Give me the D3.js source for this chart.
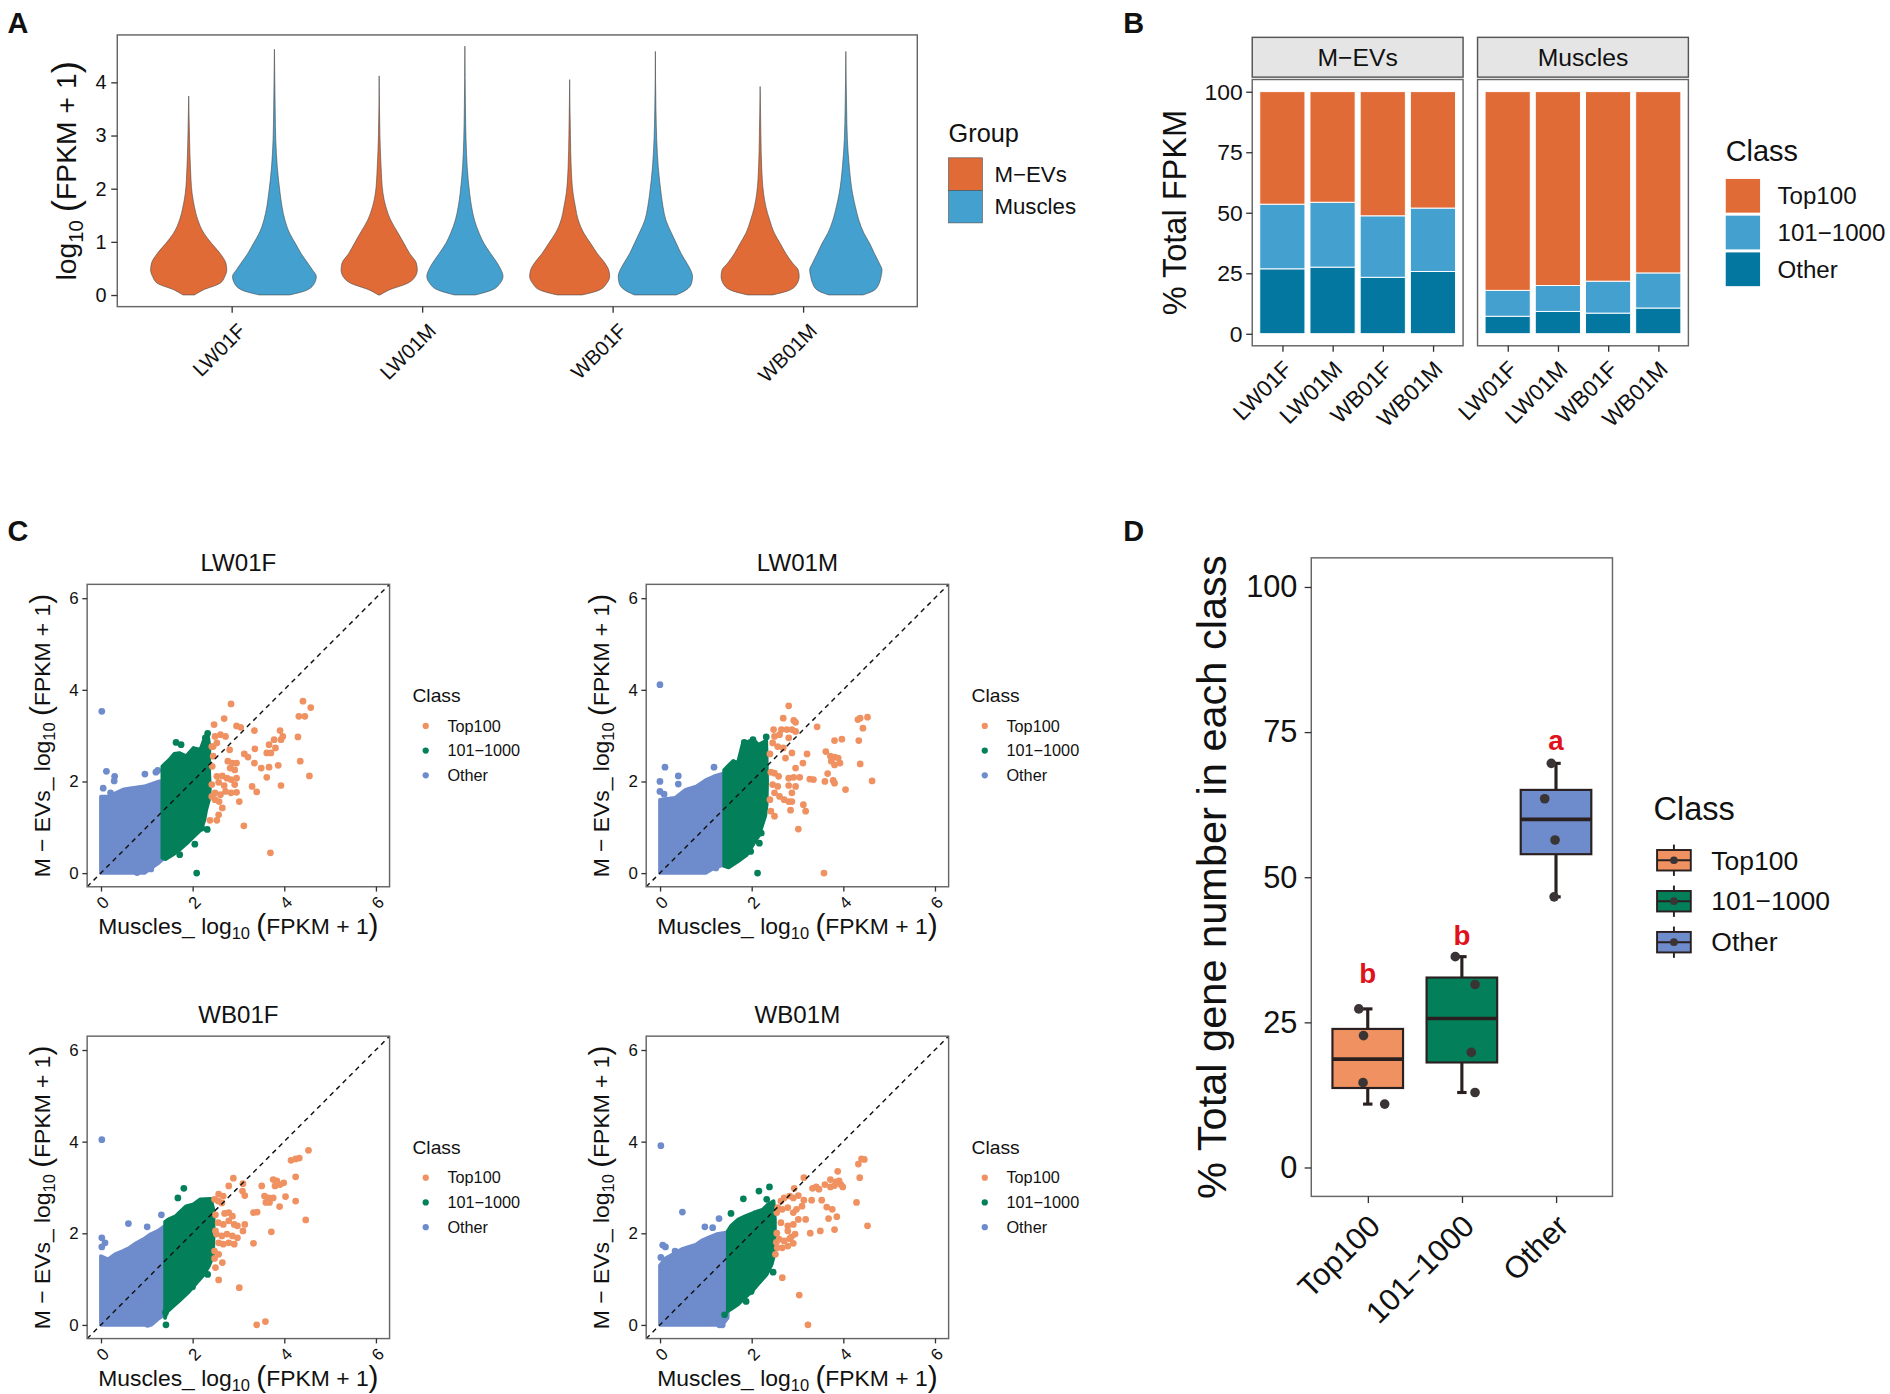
<!DOCTYPE html>
<html>
<head>
<meta charset="utf-8">
<script src="https://cdn.jsdelivr.net/npm/d3@7"></script>
<style>
  body { margin: 0; background: #fff; }
  text { fill: #111; }
</style>
</head>
<body>
<div id="fig"></div>
<script>
// ---------- data ----------
const samples = ["LW01F", "LW01M", "WB01F", "WB01M"];
const groups = ["M\u2212EVs", "Muscles"];
const classes = ["Top100", "101\u22121000", "Other"];

// A: violin outlines, [log10(FPKM+1), half width in category units]
const violinMEVs = [
  [[0,0.03],[0.09,0.074],[0.22,0.165],[0.35,0.19],[0.47,0.2],[0.6,0.195],[0.78,0.165],[0.97,0.12],[1.16,0.08],[1.41,0.048],[1.66,0.03],[1.91,0.018],[2.41,0.009],[2.92,0.0045],[3.74,0]],
  [[0,0.005],[0.09,0.05],[0.22,0.15],[0.35,0.19],[0.47,0.2],[0.6,0.195],[0.78,0.16],[0.97,0.13],[1.16,0.1],[1.41,0.06],[1.66,0.035],[1.91,0.02],[2.41,0.01],[3.0,0.004],[4.12,0]],
  [[0,0.065],[0.09,0.155],[0.22,0.195],[0.35,0.21],[0.47,0.205],[0.6,0.185],[0.78,0.145],[0.97,0.11],[1.16,0.075],[1.41,0.045],[1.66,0.03],[1.91,0.018],[2.41,0.008],[3.0,0.004],[4.05,0]],
  [[0,0.065],[0.09,0.155],[0.22,0.195],[0.35,0.205],[0.47,0.2],[0.6,0.17],[0.78,0.135],[0.97,0.105],[1.16,0.075],[1.41,0.05],[1.66,0.03],[1.91,0.018],[2.41,0.008],[3.0,0.004],[3.92,0]]
];
const violinMuscles = [
  [[0,0.08],[0.09,0.17],[0.22,0.21],[0.35,0.22],[0.47,0.2],[0.6,0.175],[0.78,0.14],[0.97,0.11],[1.16,0.08],[1.41,0.055],[1.66,0.04],[1.91,0.03],[2.41,0.015],[2.92,0.007],[3.48,0.004],[4.62,0]],
  [[0,0.055],[0.09,0.14],[0.22,0.185],[0.35,0.2],[0.47,0.19],[0.6,0.17],[0.78,0.135],[0.97,0.1],[1.16,0.075],[1.41,0.05],[1.66,0.035],[1.91,0.025],[2.41,0.012],[2.92,0.006],[3.5,0.003],[4.68,0]],
  [[0,0.11],[0.09,0.16],[0.22,0.19],[0.35,0.195],[0.47,0.185],[0.6,0.165],[0.78,0.135],[0.97,0.11],[1.16,0.085],[1.41,0.055],[1.66,0.04],[1.91,0.03],[2.41,0.015],[2.92,0.007],[3.5,0.003],[4.58,0]],
  [[0,0.09],[0.09,0.15],[0.22,0.175],[0.35,0.185],[0.47,0.19],[0.6,0.175],[0.78,0.15],[0.97,0.125],[1.16,0.095],[1.41,0.068],[1.66,0.05],[1.91,0.035],[2.41,0.018],[2.92,0.008],[3.5,0.004],[4.58,0]]
];
const aTicks = [0, 1, 2, 3, 4];

// B: % of total FPKM per class
const bTopMEVs = [46.5, 45.7, 51.3, 48.1];
const bMidMEVs = [26.7, 26.8, 25.4, 26.2];
const bOtherMEVs = [26.8, 27.5, 23.3, 25.7];
const bTopMuscles = [82.1, 80.1, 78.3, 74.9];
const bMidMuscles = [10.7, 10.7, 13.2, 14.5];
const bOtherMuscles = [7.2, 9.2, 8.5, 10.6];
const bTicks = [0, 25, 50, 75, 100];

// C: Muscles vs M-EVs, [x, y] in log10(FPKM+1)
// dense clouds are given as outlines, sparse genes as single points
const cOtherArea = [
  [[0,0],[0,1.67],[0.17,1.67],[0.33,1.75],[0.48,1.82],[0.64,1.85],[0.95,1.89],[1.26,2.0],[1.34,2.0],[1.34,0.29],[1.26,0.22],[1.1,0.11],[0.95,0]],
  [[0,0],[0,1.6],[0.15,1.62],[0.33,1.64],[0.56,1.82],[0.79,1.89],[1.02,2.04],[1.18,2.11],[1.4,2.18],[1.4,0.18],[1.18,0.11],[1.0,0]],
  [[0,0],[0,1.5],[0.16,1.43],[0.31,1.54],[0.47,1.61],[0.62,1.68],[0.78,1.79],[0.93,1.87],[1.09,1.98],[1.24,2.05],[1.4,2.16],[1.4,0.23],[1.24,0.12],[1.1,0]],
  [[0,0],[0,1.3],[0.12,1.45],[0.3,1.55],[0.47,1.65],[0.62,1.7],[0.78,1.75],[0.93,1.85],[1.09,1.92],[1.24,1.98],[1.48,2.02],[1.48,0.15],[1.4,0.05],[1.3,0]]
];
const cMidArea = [
  [[1.34,0.33],[1.34,2.33],[1.49,2.47],[1.6,2.6],[1.71,2.62],[1.86,2.55],[2.02,2.73],[2.17,2.69],[2.25,2.91],[2.33,3.05],[2.37,2.75],[2.36,2.3],[2.38,1.85],[2.36,1.6],[2.3,1.38],[2.26,1.16],[2.19,0.95],[2.03,0.8],[1.88,0.65],[1.72,0.51],[1.57,0.4],[1.41,0.3]],
  [[1.4,0.15],[1.4,2.25],[1.5,2.35],[1.6,2.45],[1.7,2.4],[1.8,2.8],[1.95,2.88],[2.05,2.9],[2.15,2.8],[2.25,2.85],[2.32,2.9],[2.33,2.5],[2.34,2.0],[2.33,1.5],[2.3,1.25],[2.22,1.0],[2.15,0.8],[2.05,0.65],[1.9,0.4],[1.7,0.25],[1.5,0.12]],
  [[1.4,0.15],[1.4,2.25],[1.47,2.3],[1.63,2.37],[1.71,2.45],[1.86,2.59],[2.02,2.63],[2.17,2.74],[2.4,2.75],[2.46,2.5],[2.46,2.0],[2.45,1.5],[2.36,1.29],[2.25,1.1],[2.09,0.92],[1.9,0.7],[1.71,0.52],[1.55,0.38],[1.43,0.27]],
  [[1.48,0.3],[1.48,2.05],[1.55,2.16],[1.71,2.3],[1.86,2.37],[2.05,2.45],[2.25,2.52],[2.36,2.63],[2.48,2.7],[2.51,2.3],[2.51,1.9],[2.5,1.55],[2.44,1.32],[2.33,1.1],[2.17,0.92],[2.02,0.74],[1.86,0.6],[1.71,0.45],[1.55,0.34]]
];
const cTopPts = [
  [[2.84,3.69],[4.41,3.75],[4.58,3.61],[4.32,3.42],[4.45,3.42],[2.47,3.24],[2.69,3.37],[2.96,3.21],[3.05,3.18],[3.35,3.11],[3.91,3.11],[4.3,2.97],[2.49,2.98],[2.61,3.02],[2.72,2.98],[2.45,2.76],[2.53,2.84],[2.81,2.69],[3.36,2.71],[3.21,2.53],[3.13,2.6],[3.67,2.8],[3.78,2.91],[3.93,2.91],[3.97,2.98],[3.81,2.73],[3.62,2.62],[3.71,2.62],[4.35,2.44],[2.77,2.44],[2.87,2.4],[2.96,2.4],[2.82,2.29],[2.92,2.25],[3.5,2.29],[3.67,2.31],[3.87,2.35],[3.35,2.4],[2.53,2.11],[2.65,2.12],[2.57,1.98],[2.75,2.07],[2.84,2.04],[2.96,2.07],[4.55,2.12],[3.62,2.09],[2.69,1.91],[2.92,1.93],[3.3,1.89],[3.93,1.91],[3.4,1.77],[2.49,1.75],[2.61,1.71],[2.72,1.78],[2.84,1.75],[2.96,1.76],[2.49,1.6],[2.58,1.56],[3.02,1.56],[2.65,1.42],[2.57,1.27],[2.38,1.15],[2.53,1.15],[3.12,1.03],[3.7,0.44],[2.42,2.76],[2.45,2.55],[2.43,2.33],[2.42,1.93],[2.42,1.67]],
  [[2.81,3.65],[2.69,3.38],[2.92,3.33],[2.96,3.29],[3.43,3.19],[4.32,3.35],[4.37,3.38],[4.53,3.4],[4.43,3.16],[2.48,3.13],[2.65,3.13],[2.77,3.13],[2.88,3.13],[2.96,3.09],[2.5,2.98],[2.61,3.02],[2.81,2.95],[3.81,2.89],[3.97,2.92],[4.34,2.89],[2.46,2.84],[2.57,2.76],[2.69,2.73],[2.74,2.51],[2.88,2.62],[3.21,2.6],[3.62,2.65],[3.72,2.55],[3.81,2.53],[3.74,2.44],[3.81,2.36],[3.89,2.51],[3.93,2.4],[4.37,2.38],[2.96,2.29],[3.12,2.4],[3.66,2.17],[2.81,2.07],[2.92,2.09],[3.05,2.09],[3.27,2.05],[3.35,2.04],[2.5,2.18],[2.59,2.11],[4.63,2.01],[3.6,2.0],[3.81,1.96],[3.78,2.02],[4.05,1.82],[2.46,1.93],[2.57,1.89],[2.81,1.91],[2.96,1.89],[2.5,1.75],[2.61,1.67],[2.71,1.6],[2.81,1.56],[2.88,1.75],[2.88,1.56],[3.13,1.49],[3.18,1.35],[2.42,1.35],[2.5,1.24],[2.85,1.37],[3.02,0.96],[3.58,0.0],[2.4,2.6],[2.42,2.2],[2.4,1.6]],
  [[4.53,3.81],[4.15,3.59],[4.25,3.62],[4.33,3.64],[2.89,3.2],[4.25,3.23],[3.76,3.17],[3.84,3.14],[3.91,3.06],[3.99,3.1],[3.8,3.03],[3.84,3.1],[3.1,3.08],[3.09,2.92],[3.14,2.82],[2.79,3.03],[3.51,3.03],[2.57,2.85],[2.67,2.81],[2.48,2.74],[2.56,2.7],[2.64,2.66],[3.57,2.81],[3.66,2.77],[3.76,2.77],[3.68,2.67],[3.6,2.67],[4.03,2.8],[4.25,2.7],[3.33,2.45],[3.41,2.46],[3.9,2.58],[2.7,2.43],[2.79,2.45],[2.87,2.37],[2.79,2.27],[2.91,2.19],[2.98,2.16],[2.56,2.23],[2.67,2.19],[3.14,2.19],[3.1,2.05],[4.47,2.29],[2.52,1.98],[2.64,1.94],[2.75,1.98],[2.87,1.94],[2.98,1.9],[3.72,2.03],[2.57,1.79],[2.67,1.76],[2.79,1.79],[2.91,1.76],[3.33,1.78],[2.48,1.61],[2.57,1.54],[2.65,1.36],[2.5,1.25],[2.57,0.98],[3.02,0.81],[3.4,0.0],[3.59,0.07],[2.5,2.4],[2.5,2.05],[2.48,1.45]],
  [[4.46,3.61],[4.4,3.62],[4.33,3.51],[4.36,3.21],[3.14,3.21],[3.88,3.35],[3.33,2.98],[3.41,3.01],[3.47,2.96],[3.6,3.06],[3.72,3.01],[3.81,3.04],[3.91,3.14],[3.95,3.06],[3.99,3.01],[3.72,3.17],[3.84,3.12],[2.93,2.98],[2.83,2.81],[2.91,2.77],[3.02,2.82],[2.71,2.77],[2.64,2.7],[3.14,2.72],[3.1,2.59],[3.31,2.72],[3.53,2.72],[3.64,2.57],[3.76,2.52],[4.29,2.67],[2.57,2.56],[2.67,2.52],[2.79,2.56],[2.91,2.45],[2.98,2.52],[3.86,2.36],[3.68,2.32],[3.02,2.3],[3.18,2.3],[4.53,2.16],[2.64,2.23],[2.79,2.16],[2.91,2.19],[2.79,2.05],[2.95,1.98],[2.87,1.92],[3.28,2.0],[3.5,2.05],[3.81,2.08],[2.6,1.87],[2.71,1.83],[2.83,1.88],[2.56,1.68],[2.67,1.68],[2.79,1.72],[2.91,1.78],[2.52,1.54],[2.67,1.03],[3.04,0.65],[3.23,0.0],[2.55,2.45],[2.55,2.0],[2.54,1.8]]
];
const cMidPts = [
  [[2.09,0.0],[2.05,0.63],[1.72,0.4],[1.41,0.36],[2.32,0.95],[2.2,0.98],[1.64,2.85],[1.75,2.8],[2.33,3.05],[2.28,2.95]],
  [[2.13,0],[1.98,0.47],[2.21,0.87],[2.17,0.65],[2.32,2.97],[1.49,0.18],[1.84,2.85],[2.03,2.91]],
  [[1.81,2.98],[1.68,2.77],[1.42,0],[1.41,0.27],[2.0,0.83],[2.33,1.1]],
  [[2.39,3.01],[2.16,2.92],[1.82,2.75],[2.33,2.74],[1.55,2.43],[1.88,0.51],[1.99,0.73],[2.31,1.18],[2.47,1.15],[1.41,0.22]]
];
const cOtherPts = [
  [[0.02,3.53],[0.12,2.22],[0.3,2.11],[0.29,2.01],[0.21,1.75],[1.24,2.24],[0.96,2.16],[1.09,0.09],[0.79,0.01],[0.05,1.85],[1.2,2.2]],
  [[0,4.11],[0.11,2.31],[0,2.0],[0.4,2.12],[0.4,1.94],[0,1.78],[0.09,1.72],[1.18,2.31],[1.22,0.11]],
  [[0.02,4.04],[0.6,2.21],[1.32,2.4],[1.01,2.14],[0.02,1.9],[0.09,1.79],[0.02,1.7],[1.02,0.01]],
  [[0.02,3.91],[0.49,2.46],[1.29,2.32],[0.98,2.14],[1.15,2.12],[0.06,1.74],[0.12,1.7],[0.33,1.61],[0.02,1.47],[1.3,0],[1.36,0],[1.16,0.05]]
];
const cTicks = [0, 2, 4, 6];

// D: % of gene number per class, one value per sample, with jitter
const dTop = [27.3, 22.7, 14.6, 10.9];
const dMid = [36.3, 31.5, 19.8, 12.9];
const dOther = [69.6, 63.5, 56.4, 46.6];
const dJitTop = [-0.095, -0.045, -0.05, 0.18];
const dJitMid = [-0.07, 0.14, 0.1, 0.14];
const dJitOther = [-0.05, -0.12, -0.01, -0.02];
const dLetters = ["b", "b", "a"];
const dLetterY = [33.5, 40.0, 73.5];
const dTicks = [0, 25, 50, 75, 100];

// ---------- drawing ----------
const FONT = '"Liberation Sans", Arial, Helvetica, sans-serif';
const colA = ["#E06B37", "#44A0CF", "#03779F"];
const colC = ["#EF9160", "#03805A", "#6E8BCB"];

const svg = d3.select("#fig").append("svg")
  .attr("width", 1890).attr("height", 1394)
  .attr("viewBox", "0 0 1568 1157")
  .style("font-family", FONT);
svg.append("rect").attr("width", 1568).attr("height", 1157).attr("fill", "#fff");

function letter(t, x, y) {
  svg.append("text").attr("x", x).attr("y", y)
    .attr("font-size", 24).attr("font-weight", "bold").text(t);
}

function styleAxis(g, size) {
  g.attr("font-family", FONT).attr("font-size", size);
  g.select(".domain").remove();
  g.selectAll(".tick line").attr("stroke", "#333").attr("stroke-width", 1.1);
  g.selectAll(".tick text").attr("fill", "#1a1a1a");
}

function rotateLabels(g, dx, dy, angle) {
  g.selectAll(".tick text")
    .attr("x", 0).attr("y", 0).attr("dy", "0.35em")
    .attr("text-anchor", "end")
    .attr("transform", `translate(${dx},${dy}) rotate(${angle})`);
}

function frame(g, x0, y0, x1, y1) {
  g.append("rect").attr("x", x0).attr("y", y0)
    .attr("width", x1 - x0).attr("height", y1 - y0)
    .attr("fill", "none").attr("stroke", "#666").attr("stroke-width", 1.2);
}

// "prefix log10 (FPKM + 1)" like R plotmath
function logLabel(t, prefix, size) {
  t.append("tspan").text(prefix + "log");
  t.append("tspan").attr("font-size", size * 0.72).attr("dy", size * 0.22).text("10");
  t.append("tspan").attr("dy", -size * 0.22).text(" ");
  t.append("tspan").attr("font-size", size * 1.3).attr("dy", size * 0.06).text("(");
  t.append("tspan").attr("dy", -size * 0.06).text("FPKM + 1");
  t.append("tspan").attr("font-size", size * 1.3).attr("dy", size * 0.06).text(")");
}

// ===== A =====
letter("A", 6, 27);
const aL = 97, aR = 761, aT = 29, aB = 254.5;
const aX = d3.scaleLinear().domain([0.4, 4.6]).range([aL, aR]);
const aY = d3.scaleLinear().domain([-0.22, 4.89]).range([aB, aT]);
const gA = svg.append("g");
const dodge = [-0.225, 0.225];

[violinMEVs, violinMuscles].forEach((set, gi) => {
  set.forEach((prof, si) => {
    const cx = si + 1 + dodge[gi];
    const area = d3.area().curve(d3.curveMonotoneY)
      .y(d => aY(d[0]))
      .x0(d => aX(cx - d[1]))
      .x1(d => aX(cx + d[1]));
    gA.append("path").datum(prof).attr("d", area)
      .attr("fill", colA[gi]).attr("stroke", "#4a4a4a").attr("stroke-width", 0.5);
  });
});
frame(gA, aL, aT, aR, aB);

const aYAxis = gA.append("g").attr("transform", `translate(${aL},0)`)
  .call(d3.axisLeft(aY).tickValues(aTicks).tickFormat(d3.format("d")).tickSize(5).tickPadding(4));
styleAxis(aYAxis, 16.5);
const aXAxis = gA.append("g").attr("transform", `translate(0,${aB})`)
  .call(d3.axisBottom(aX).tickValues([1, 2, 3, 4]).tickFormat((d, i) => samples[i]).tickSize(5));
styleAxis(aXAxis, 17);
rotateLabels(aXAxis, 8, 17, -45);

const aTitle = gA.append("text").attr("font-size", 23.5).attr("text-anchor", "middle")
  .attr("transform", `translate(63,${(aT + aB) / 2}) rotate(-90)`);
logLabel(aTitle, "", 23.5);

gA.append("text").attr("x", 787).attr("y", 118).attr("font-size", 21).text("Group");
groups.forEach((g, i) => {
  gA.append("rect").attr("x", 787).attr("y", 131 + i * 27).attr("width", 28).attr("height", 27)
    .attr("fill", colA[i]).attr("stroke", "#4a4a4a").attr("stroke-width", 0.5);
  gA.append("text").attr("x", 825).attr("y", 144.5 + i * 27).attr("dy", "0.35em")
    .attr("font-size", 18.5).text(g);
});

// ===== B =====
letter("B", 932, 27);
const bT = 66, bB = 287;
const bY = d3.scaleLinear().domain([-5, 105]).range([bB, bT]);
const facetX = [[1039, 1214], [1226, 1401]];
const bSets = [[bOtherMEVs, bMidMEVs, bTopMEVs], [bOtherMuscles, bMidMuscles, bTopMuscles]];
const stackKeys = ["Other", "Mid", "Top"];
const stackCol = { Other: colA[2], Mid: colA[1], Top: colA[0] };
const gB = svg.append("g");

bSets.forEach((set, fi) => {
  const [x0, x1] = facetX[fi];
  const bX = d3.scaleLinear().domain([0.4, 4.6]).range([x0, x1]);
  const rows = samples.map((s, i) => ({ i: i, Other: set[0][i], Mid: set[1][i], Top: set[2][i] }));
  const stacked = d3.stack().keys(stackKeys)(rows);
  const bw = bX(1.45) - bX(0.55);
  stacked.forEach(layer => {
    gB.selectAll(null).data(layer).enter().append("rect")
      .attr("x", d => bX(d.data.i + 1) - bw / 2)
      .attr("width", bw)
      .attr("y", d => bY(d[1]))
      .attr("height", d => bY(d[0]) - bY(d[1]))
      .attr("fill", stackCol[layer.key])
      .attr("stroke", "#fff").attr("stroke-width", 0.8);
  });
  frame(gB, x0, bT, x1, bB);
  // strip
  gB.append("rect").attr("x", x0).attr("y", 31).attr("width", x1 - x0).attr("height", 33)
    .attr("fill", "#E5E5E5").attr("stroke", "#555").attr("stroke-width", 1.2);
  gB.append("text").attr("x", (x0 + x1) / 2).attr("y", 47.5).attr("dy", "0.35em")
    .attr("text-anchor", "middle").attr("font-size", 20.5).text(groups[fi]);

  const xa = gB.append("g").attr("transform", `translate(0,${bB})`)
    .call(d3.axisBottom(bX).tickValues([1, 2, 3, 4]).tickFormat((d, i) => samples[i]).tickSize(5));
  styleAxis(xa, 19);
  rotateLabels(xa, 4, 16, -45);
  if (fi === 0) {
    const ya = gB.append("g").attr("transform", `translate(${x0},0)`)
      .call(d3.axisLeft(bY).tickValues(bTicks).tickSize(5).tickPadding(3));
    styleAxis(ya, 19);
  }
});
gB.append("text").attr("font-size", 27).attr("text-anchor", "middle")
  .attr("transform", `translate(984,${(bT + bB) / 2}) rotate(-90)`).text("% Total FPKM");
gB.append("text").attr("x", 1432).attr("y", 134).attr("font-size", 24).text("Class");
classes.forEach((c, i) => {
  gB.append("rect").attr("x", 1432).attr("y", 148.5 + i * 30.5).attr("width", 28.5).attr("height", 28)
    .attr("fill", colA[i]);
  gB.append("text").attr("x", 1475).attr("y", 162.5 + i * 30.5).attr("dy", "0.35em")
    .attr("font-size", 20).text(c);
});

// ===== C =====
letter("C", 6, 449);
const cBoxes = [[72, 485], [536, 485], [72, 860], [536, 860]];
const cSize = 251;

function scatter(k) {
  const [L, T] = cBoxes[k];
  const R = L + cSize, B = T + cSize;
  const x = d3.scaleLinear().domain([-0.3, 6.3]).range([L, R]);
  const y = d3.scaleLinear().domain([-0.3, 6.3]).range([B, T]);
  const g = svg.append("g");
  const clipId = "clip" + k;
  g.append("clipPath").attr("id", clipId).append("rect")
    .attr("x", L).attr("y", T).attr("width", cSize).attr("height", cSize);
  const body = g.append("g").attr("clip-path", `url(#${clipId})`);
  const outline = d3.line().x(d => x(d[0])).y(d => y(d[1])).curve(d3.curveLinearClosed);

  body.append("path").datum(cOtherArea[k]).attr("d", outline)
    .attr("fill", colC[2]).attr("stroke", colC[2]).attr("stroke-width", 3).attr("stroke-linejoin", "round");
  body.selectAll(null).data(cOtherPts[k]).enter().append("circle")
    .attr("cx", d => x(d[0])).attr("cy", d => y(d[1])).attr("r", 2.8).attr("fill", colC[2]);
  body.append("path").datum(cMidArea[k]).attr("d", outline)
    .attr("fill", colC[1]).attr("stroke", colC[1]).attr("stroke-width", 3).attr("stroke-linejoin", "round");
  body.selectAll(null).data(cMidPts[k]).enter().append("circle")
    .attr("cx", d => x(d[0])).attr("cy", d => y(d[1])).attr("r", 2.8).attr("fill", colC[1]);
  body.selectAll(null).data(cTopPts[k]).enter().append("circle")
    .attr("cx", d => x(d[0])).attr("cy", d => y(d[1])).attr("r", 2.8).attr("fill", colC[0]);
  // y = x
  body.append("line").attr("x1", x(-0.3)).attr("y1", y(-0.3)).attr("x2", x(6.3)).attr("y2", y(6.3))
    .attr("stroke", "#111").attr("stroke-width", 1.2).attr("stroke-dasharray", "4,3.5");
  frame(g, L, T, R, B);

  const ya = g.append("g").attr("transform", `translate(${L},0)`)
    .call(d3.axisLeft(y).tickValues(cTicks).tickFormat(d3.format("d")).tickSize(4).tickPadding(3));
  styleAxis(ya, 14);
  const xa = g.append("g").attr("transform", `translate(0,${B})`)
    .call(d3.axisBottom(x).tickValues(cTicks).tickFormat(d3.format("d")).tickSize(4));
  styleAxis(xa, 14);
  xa.selectAll(".tick text").attr("x", 0).attr("y", 0).attr("dy", "0.35em")
    .attr("text-anchor", "middle").attr("transform", "translate(1,13) rotate(-45)");

  g.append("text").attr("x", (L + R) / 2).attr("y", T - 11).attr("text-anchor", "middle")
    .attr("font-size", 20).text(samples[k]);
  const xt = g.append("text").attr("x", (L + R) / 2).attr("y", B + 39).attr("text-anchor", "middle")
    .attr("font-size", 19);
  logLabel(xt, "Muscles_ ", 19);
  const yt = g.append("text").attr("text-anchor", "middle").attr("font-size", 19)
    .attr("transform", `translate(${L - 31},${(T + B) / 2}) rotate(-90)`);
  logLabel(yt, "M \u2212 EVs_ ", 19);

  g.append("text").attr("x", R + 19).attr("y", T + 92).attr("dy", "0.35em")
    .attr("font-size", 16).text("Class");
  classes.forEach((c, i) => {
    g.append("circle").attr("cx", R + 30).attr("cy", T + 117.5 + i * 20.5).attr("r", 2.6).attr("fill", colC[i]);
    g.append("text").attr("x", R + 48).attr("y", T + 117.5 + i * 20.5).attr("dy", "0.35em")
      .attr("font-size", 13.5).text(c);
  });
}
[0, 1, 2, 3].forEach(scatter);

// ===== D =====
letter("D", 932, 449);
const dL = 1088, dR = 1338, dT = 463, dB = 993;
const dX = d3.scaleLinear().domain([0.4, 3.6]).range([dL, dR]);
const dY = d3.scaleLinear().domain([-5, 105]).range([dB, dT]);
const gD = svg.append("g");
const dVals = [dTop, dMid, dOther];
const dJit = [dJitTop, dJitMid, dJitOther];
const ink = "#2a2020";

dVals.forEach((vals, ci) => {
  const cx = ci + 1;
  const s = vals.slice().sort(d3.ascending);
  const q1 = d3.quantile(s, 0.25), med = d3.quantile(s, 0.5), q3 = d3.quantile(s, 0.75);
  const lo = s[0], hi = s[s.length - 1];
  const half = (dX(1.375) - dX(1)), cap = dX(1.05) - dX(1);
  // error bars
  [[lo, q1], [q3, hi]].forEach(([a, b]) => {
    gD.append("line").attr("x1", dX(cx)).attr("x2", dX(cx)).attr("y1", dY(a)).attr("y2", dY(b))
      .attr("stroke", ink).attr("stroke-width", 2.6);
  });
  [lo, hi].forEach(v => {
    gD.append("line").attr("x1", dX(cx) - cap).attr("x2", dX(cx) + cap).attr("y1", dY(v)).attr("y2", dY(v))
      .attr("stroke", ink).attr("stroke-width", 2.6);
  });
  gD.append("rect").attr("x", dX(cx) - half).attr("width", 2 * half)
    .attr("y", dY(q3)).attr("height", dY(q1) - dY(q3))
    .attr("fill", colC[ci]).attr("stroke", ink).attr("stroke-width", 1.8);
  gD.append("line").attr("x1", dX(cx) - half).attr("x2", dX(cx) + half).attr("y1", dY(med)).attr("y2", dY(med))
    .attr("stroke", ink).attr("stroke-width", 3);
  gD.selectAll(null).data(vals).enter().append("circle")
    .attr("cx", (d, i) => dX(cx + dJit[ci][i])).attr("cy", d => dY(d)).attr("r", 4)
    .attr("fill", "#3a3434");
  gD.append("text").attr("x", dX(cx)).attr("y", dY(dLetterY[ci])).attr("dy", "0.35em")
    .attr("text-anchor", "middle").attr("font-size", 23).attr("font-weight", "bold")
    .style("fill", "#E0121B").text(dLetters[ci]);
});
frame(gD, dL, dT, dR, dB);

const dya = gD.append("g").attr("transform", `translate(${dL},0)`)
  .call(d3.axisLeft(dY).tickValues(dTicks).tickSize(5.5).tickPadding(6));
styleAxis(dya, 25.5);
const dxa = gD.append("g").attr("transform", `translate(0,${dB})`)
  .call(d3.axisBottom(dX).tickValues([1, 2, 3]).tickFormat((d, i) => classes[i]).tickSize(5.5));
styleAxis(dxa, 25.5);
rotateLabels(dxa, 5, 20, -45);

gD.append("text").attr("font-size", 34.5).attr("text-anchor", "middle")
  .attr("transform", `translate(1017,${(dT + dB) / 2}) rotate(-90)`)
  .text("% Total gene number in each class");

gD.append("text").attr("x", 1372).attr("y", 681).attr("font-size", 27).text("Class");
classes.forEach((c, i) => {
  const cy = 714 + i * 34, kx = 1375, kw = 28;
  gD.append("line").attr("x1", kx + kw / 2).attr("x2", kx + kw / 2).attr("y1", cy - 13).attr("y2", cy + 13)
    .attr("stroke", ink).attr("stroke-width", 1.6);
  gD.append("rect").attr("x", kx).attr("y", cy - 8.5).attr("width", kw).attr("height", 17)
    .attr("fill", colC[i]).attr("stroke", ink).attr("stroke-width", 1.6);
  gD.append("line").attr("x1", kx).attr("x2", kx + kw).attr("y1", cy).attr("y2", cy)
    .attr("stroke", ink).attr("stroke-width", 1.6);
  gD.append("circle").attr("cx", kx + kw / 2).attr("cy", cy).attr("r", 3.2).attr("fill", "#3a3434");
  gD.append("text").attr("x", 1420).attr("y", cy).attr("dy", "0.35em").attr("font-size", 22).text(c);
});
</script>
</body>
</html>
